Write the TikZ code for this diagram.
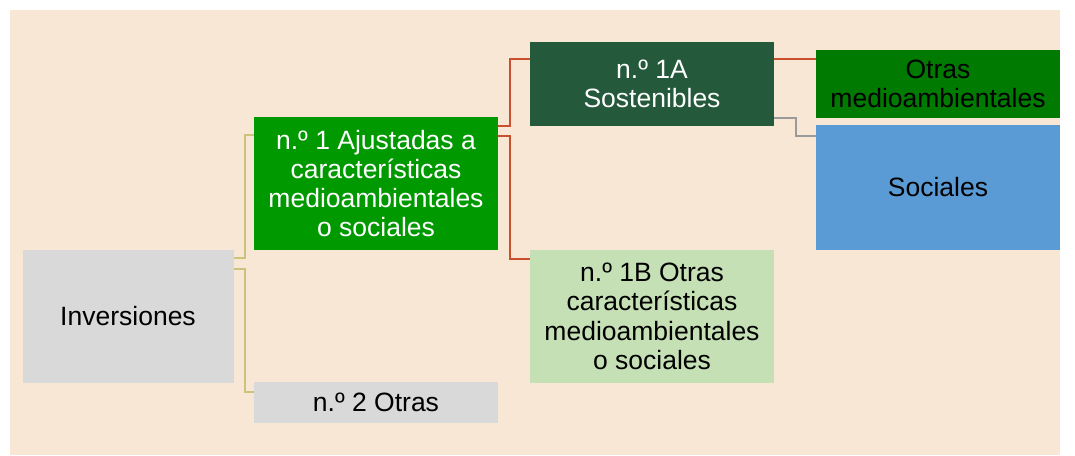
\documentclass[tikz,border=0pt]{standalone}
\usepackage{fontspec}
\setmainfont{Liberation Sans}
\usetikzlibrary{calc}
\definecolor{bgc}{HTML}{F9E7D5}
\definecolor{greyb}{HTML}{D9D9D9}
\definecolor{gA}{HTML}{009900}
\definecolor{gD}{HTML}{245A3B}
\definecolor{gO}{HTML}{007A00}
\definecolor{bS}{HTML}{5B9BD5}
\definecolor{gL}{HTML}{C5E0B4}
\definecolor{khaki}{HTML}{CBC37B}
\definecolor{redc}{HTML}{C8502E}
\definecolor{greyc}{HTML}{9A9A9A}
\tikzset{
  box/.style={inner sep=0pt, align=center, font=\fontsize{26.5}{29.3}\selectfont},
  conn/.style={line width=2pt},
}
\begin{document}
\begin{tikzpicture}[x=1pt,y=-1pt]
\useasboundingbox (0,0) rectangle (1075,455);
\fill[bgc] (10,10) rectangle (1060,455);
% nodes
\node[box, fill=greyb, minimum width=211pt, minimum height=133pt] (inv) at (128,316.5) {Inversiones};
\node[box, fill=gA, text=white, minimum width=244pt, minimum height=133pt] (n1) at (376,183.5) {n.º 1 Ajustadas a\\características\\medioambientales\\o sociales};
\node[box, fill=greyb, minimum width=244pt, minimum height=41pt] (n2) at (376,402.5) {n.º 2 Otras};
\node[box, fill=gD, text=white, minimum width=244pt, minimum height=84pt] (a) at (652,84) {n.º 1A\\Sostenibles};
\node[box, fill=gL, minimum width=244pt, minimum height=133pt] (b) at (652,316.5) {n.º 1B Otras\\características\\medioambientales\\o sociales};
\node[box, fill=gO, minimum width=244pt, minimum height=68pt] (o) at (938,84) {Otras\\medioambientales};
\node[box, fill=bS, minimum width=244pt, minimum height=125pt] (s) at (938,187.5) {Sociales};
% connectors
\draw[conn, khaki] ($(inv.north east)+(0,8)$) -- ++(11,0) |- ($(n1.north west)+(0,18)$);
\draw[conn, khaki] ($(inv.north east)+(0,19)$) -- ++(11,0) |- ($(n2.north west)+(0,10)$);
\draw[conn, redc] ($(n1.north east)+(0,9)$) -- ++(12,0) |- ($(a.north west)+(0,17)$);
\draw[conn, redc] ($(n1.north east)+(0,19)$) -- ++(12,0) |- ($(b.north west)+(0,9)$);
\draw[conn, redc] ($(a.north east)+(0,17)$) -- ($(o.north west)+(0,9)$);
\draw[conn, greyc] ($(a.south east)+(0,-8)$) -- ++(22,0) |- ($(s.north west)+(0,11)$);
\end{tikzpicture}
\end{document}
